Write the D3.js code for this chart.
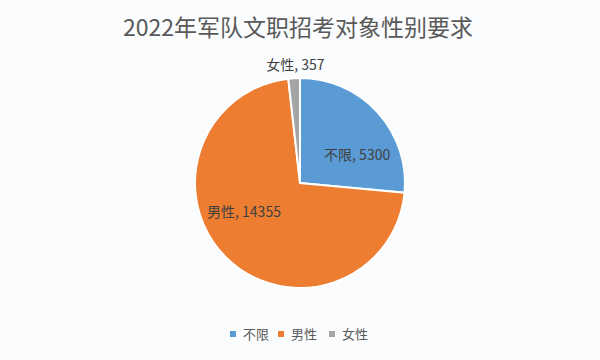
<!DOCTYPE html>
<html><head><meta charset="utf-8">
<script src="https://cdn.jsdelivr.net/npm/d3@7"></script>
<style>body{margin:0;background:#fbfcfd;}svg{display:block;}</style>
</head><body>
<script>
const categories = ["不限", "男性", "女性"];
const values = [5300, 14355, 357];
const colors = ["#5B9BD5", "#ED7D31", "#A5A5A5"];
const title = "2022年军队文职招考对象性别要求";

const W = 600, H = 360, cx = 300, cy = 183, R = 105;
const font = "'Noto Sans CJK SC', 'Noto Sans', sans-serif";
const svg = d3.select("body").append("svg").attr("width", W).attr("height", H);
svg.append("rect").attr("width", W).attr("height", H).attr("fill", "#fbfcfd");

svg.append("text").attr("x", 298).attr("y", 36).attr("text-anchor", "middle")
  .attr("font-family", font).attr("font-size", 23).attr("fill", "#595959").text(title);

const pie = d3.pie().sort(null).value(d => d);
const arcs = pie(values);
const arc = d3.arc().innerRadius(0).outerRadius(R);
const g = svg.append("g").attr("transform", `translate(${cx},${cy})`);
g.selectAll("path").data(arcs).join("path")
  .attr("d", arc).attr("fill", (d, i) => colors[i])
  .attr("stroke", "#fff").attr("stroke-width", 2);

// label placement: anchor at arc centroid then nudge (layout, not data)
const labelArc = [
  d3.arc().innerRadius(R * 0.62).outerRadius(R * 0.62),
  d3.arc().innerRadius(R * 0.68).outerRadius(R * 0.68),
  d3.arc().innerRadius(R * 1.12).outerRadius(R * 1.12)
];
const nudge = [[9, 16], [-6, -22], [2, 0]];
g.selectAll("text.lbl").data(arcs).join("text").attr("class", "lbl")
  .attr("transform", (d, i) => { const c = labelArc[i].centroid(d); return `translate(${c[0] + nudge[i][0]},${c[1] + nudge[i][1]})`; })
  .attr("text-anchor", "middle").attr("dy", "0.35em")
  .attr("font-family", font).attr("font-size", 14).attr("fill", "#404040")
  .text((d, i) => `${categories[i]}, ${values[i]}`);

// legend
const legend = svg.append("g").attr("transform", "translate(0,334)");
const items = legend.selectAll("g").data(categories).join("g");
const xs = [230, 278, 329];
items.attr("transform", (d, i) => `translate(${xs[i]},0)`);
items.append("rect").attr("x", 0).attr("y", -3).attr("width", 6).attr("height", 6)
  .attr("fill", (d, i) => colors[i]);
items.append("text").attr("x", 13).attr("y", 0).attr("dy", "0.35em")
  .attr("font-family", font).attr("font-size", 13).attr("fill", "#595959").text(d => d);
</script>
</body></html>
